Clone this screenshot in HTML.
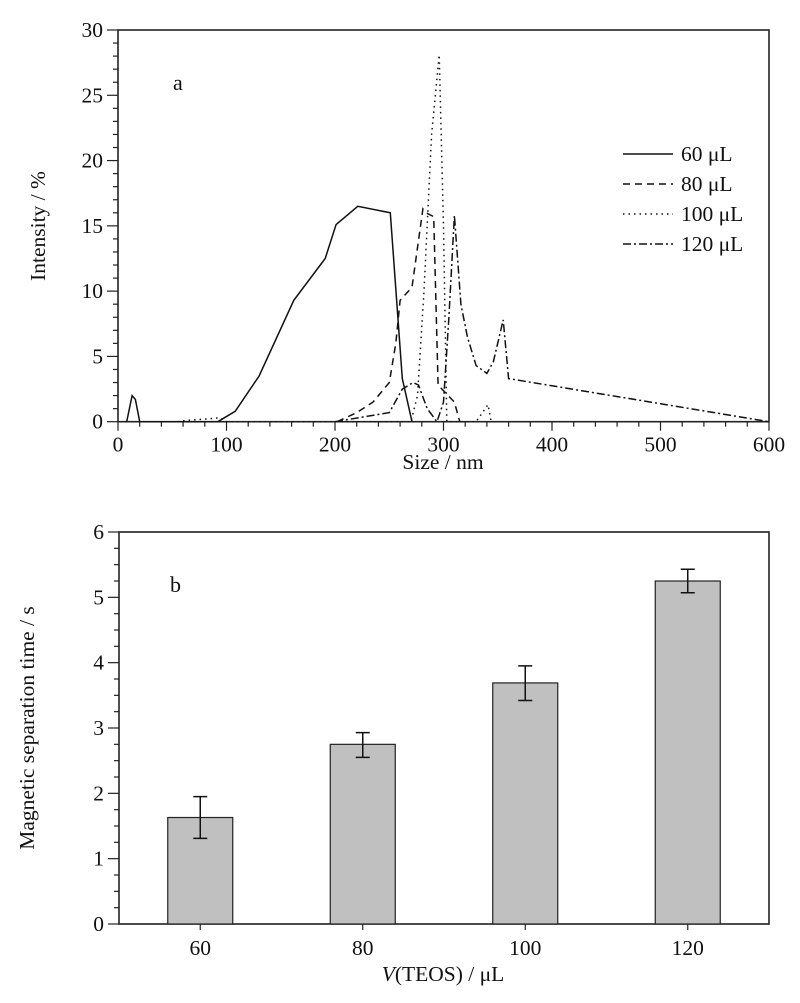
<!DOCTYPE html>
<html><head><meta charset="utf-8"><style>
body{margin:0;background:#fff}
svg text{font-family:"Liberation Serif",serif;fill:#111}
</style></head><body>
<svg id="s" width="800" height="998" xmlns="http://www.w3.org/2000/svg">
<g id="top"></g>
<g id="bot"></g>
</svg>
<script>
const NS="http://www.w3.org/2000/svg";
// ---- chart a data ----
const sizeTicks=[0,100,200,300,400,500,600];
const intensityTicks=[0,5,10,15,20,25,30];
const seriesNames=["60 μL","80 μL","100 μL","120 μL"];
const s60x=[8,13,16,20,92,108,130,162,191,201,221,251,262,271];
const s60y=[0,2,1.7,0,0,0.8,3.5,9.3,12.5,15.1,16.5,16,3.3,0];
const s80x=[202,220,235,250,256,260,271,281,284,291,295,302,310,315];
const s80y=[0,0.7,1.5,3,6,9.3,10.3,16.3,16,15.7,2.8,2.2,1.5,0];
const s100x=[55,63,80,94,100,270,276,282,289,296,300,303,330,341,344];
const s100y=[0,0.1,0.2,0.3,0,0,2,10,22,28.1,15,0,0,1.3,0];
const s120x=[200,250,262,272,277,285,294,300,305,310,316,322,330,340,346,355,360,600];
const s120y=[0,0.7,2.5,3,2.8,1,0,1.5,8,15.8,9,6.5,4.3,3.7,4.6,7.8,3.3,0];
// ---- chart b data ----
const volumes=["60","80","100","120"];
const times=[1.63,2.75,3.69,5.25];
const errUp=[0.32,0.18,0.26,0.18];
const errDn=[0.32,0.2,0.27,0.18];
const timeTicks=[0,1,2,3,4,5,6];

function el(tag,attrs,parent,name,inter){const e=document.createElementNS(NS,tag);for(const k in attrs)e.setAttribute(k,attrs[k]);


parent.appendChild(e);return e;}
function txt(s,attrs,parent,name){const t=el('text',attrs,parent,name,false);t.textContent=s;return t;}

const FS=21.5;
// chart a
const T=document.getElementById('top');
const ax={l:118,r:769,t:30,b:421.7};
const xA=v=>ax.l+(v-0)/600*(ax.r-ax.l);
const yA=v=>ax.b-(v/30)*(ax.b-ax.t);
el('rect',{x:ax.l,y:ax.t,width:ax.r-ax.l,height:ax.b-ax.t,fill:'none',stroke:'#222','stroke-width':1.6},T,'plot-frame-a');
for(let v=0;v<=600;v+=20){const maj=v%100===0;el('line',{x1:xA(v),x2:xA(v),y1:ax.b,y2:ax.b+(maj?9:5),stroke:'#222','stroke-width':1.2},T,'x-tick');}
for(let v=0;v<=30;v+=1){const maj=v%5===0;el('line',{x1:ax.l-(maj?11:5),x2:ax.l,y1:yA(v),y2:yA(v),stroke:'#222','stroke-width':1.2},T,'y-tick');}
sizeTicks.forEach(v=>txt(v,{x:xA(v),y:ax.b+30,'font-size':FS,'text-anchor':'middle'},T,'x-tick-label'));
intensityTicks.forEach(v=>txt(v,{x:ax.l-15,y:yA(v)+7,'font-size':FS,'text-anchor':'end'},T,'y-tick-label'));
txt('Size / nm',{x:443,y:469,'font-size':FS,'text-anchor':'middle'},T,'x-axis-title');
txt('Intensity / %',{x:0,y:0,'font-size':FS,'text-anchor':'middle',transform:'translate(45,226) rotate(-90)'},T,'y-axis-title');
txt('a',{x:173,y:90,'font-size':22},T,'panel-label-a');
const dashes=['','7,5','1.5,4','8,3,2,3'];
const SX=[s60x,s80x,s100x,s120x],SY=[s60y,s80y,s100y,s120y];
const sn=['series-60ul','series-80ul','series-100ul','series-120ul'];
SX.forEach((xs,i)=>{const d=xs.map((x,j)=>(j?'L':'M')+xA(x).toFixed(1)+','+yA(SY[i][j]).toFixed(1)).join('');
el('path',{d,fill:'none',stroke:'#111','stroke-width':1.5,'stroke-dasharray':dashes[i]},T,sn[i]);});
const ly=[154,184,214,244];
seriesNames.forEach((n,i)=>{const g=el('g',{},T,'legend-entry',false);
el('line',{x1:623,x2:673,y1:ly[i],y2:ly[i],stroke:'#111','stroke-width':1.5,'stroke-dasharray':dashes[i]},g,'legend-line');
txt(n,{x:681,y:ly[i]+7,'font-size':FS},g,'legend-label');});

// chart b
const B=document.getElementById('bot');
const bx={l:119,r:769,t:532,b:924};
const band=(bx.r-bx.l)/volumes.length;
const xB=i=>bx.l+band*(i+0.5);
const yB=v=>bx.b-(v/6)*(bx.b-bx.t);
el('rect',{x:bx.l,y:bx.t,width:bx.r-bx.l,height:bx.b-bx.t,fill:'none',stroke:'#222','stroke-width':1.6},B,'plot-frame-b');
for(let v=0;v<=6.001;v+=0.25){const maj=Math.abs(v-Math.round(v))<1e-6;el('line',{x1:bx.l-(maj?11:5),x2:bx.l,y1:yB(v),y2:yB(v),stroke:'#222','stroke-width':1.2},B,'y-tick');}
timeTicks.forEach(v=>txt(v,{x:bx.l-15,y:yB(v)+7,'font-size':FS,'text-anchor':'end'},B,'y-tick-label'));
volumes.forEach((v,i)=>{
el('line',{x1:xB(i),x2:xB(i),y1:bx.b,y2:bx.b+6,stroke:'#222','stroke-width':1.2},B,'x-tick');
txt(v,{x:xB(i),y:bx.b+31,'font-size':FS,'text-anchor':'middle'},B,'x-tick-label');
el('rect',{x:xB(i)-32.5,y:yB(times[i]),width:65,height:bx.b-yB(times[i]),fill:'#c0c0c0',stroke:'#222','stroke-width':1.2},B,'bar-'+v+'ul');
const top=yB(times[i]+errUp[i]),bt=yB(times[i]-errDn[i]);
el('path',{d:`M${xB(i)},${top}V${bt}M${xB(i)-7},${top}H${xB(i)+7}M${xB(i)-7},${bt}H${xB(i)+7}`,stroke:'#111','stroke-width':1.5,fill:'none'},B,'error-bar-'+v+'ul');
});
txt('b',{x:170,y:592,'font-size':22},B,'panel-label-b');
const xt=txt('',{x:443,y:981,'font-size':FS,'text-anchor':'middle'},B,'x-axis-title');
xt.innerHTML='<tspan font-style="italic">V</tspan>(TEOS) / μL';
txt('Magnetic separation time / s',{x:0,y:0,'font-size':FS,'text-anchor':'middle',transform:'translate(34,728) rotate(-90)'},B,'y-axis-title');
</script>
</body></html>
